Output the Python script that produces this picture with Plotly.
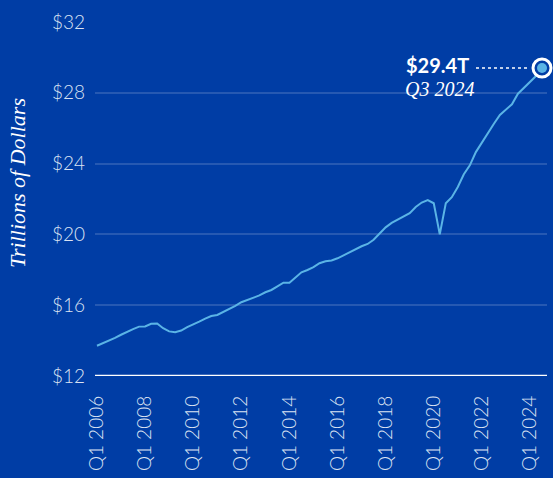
import plotly.graph_objects as go

# Quarterly values, trillions of dollars (Q1 2006 .. Q3 2024)
years = list(range(2006, 2025))
quarters = [f"Q{q} {y}" for y in years for q in (1, 2, 3, 4)][:75]
values = [
    13.71, 13.85, 14.00, 14.15, 14.33, 14.50, 14.65, 14.79,
    14.80, 14.95, 14.97, 14.70, 14.52, 14.47, 14.57, 14.76,
    14.90, 15.07, 15.24, 15.39, 15.45, 15.62, 15.76, 15.96,
    16.17, 16.30, 16.42, 16.55, 16.73, 16.86, 17.06, 17.27,
    17.27, 17.57, 17.86, 17.99, 18.15, 18.37, 18.48, 18.53,
    18.65, 18.82, 18.99, 19.17, 19.33, 19.46, 19.70, 20.05,
    20.40, 20.65, 20.84, 21.00, 21.20, 21.55, 21.80, 21.94,
    21.76, 20.00, 21.76, 22.10, 22.68, 23.40, 23.90, 24.65,
    25.20, 25.70, 26.25, 26.75, 27.07, 27.35, 27.95, 28.30,
    28.65, 28.95, 29.40,
]
tick_labels = [f"Q1 {y}" for y in range(2006, 2025, 2)]
y_ticks = [12, 16, 20, 24, 28, 32]
y_tick_text = [f"${v}" for v in y_ticks]
last_label = "$29.4T"
last_period = "Q3 2024"

BG = "#003DA5"
LINE = "#5AB4E6"
TXT = "#DCE3F3"

W, H = 553, 478
L, R, T, B = 95, 6, 22, 102
PW, PH = W - L - R, H - T - B

def px(xp):  # window pixel -> paper
    return (xp - L) / PW

def py(yp):
    return (H - B - yp) / PH

fig = go.Figure()
fig.add_trace(go.Scatter(
    x=quarters, y=values, mode="lines",
    line=dict(color=LINE, width=2), hoverinfo="skip", showlegend=False,
))
fig.add_trace(go.Scatter(
    x=[quarters[-1]], y=[values[-1]], mode="markers",
    marker=dict(size=18, color=BG, line=dict(color="white", width=3)),
    showlegend=False, hoverinfo="skip", cliponaxis=False,
))
fig.add_trace(go.Scatter(
    x=[quarters[-1]], y=[values[-1]], mode="markers",
    marker=dict(size=10, color=LINE), showlegend=False, hoverinfo="skip",
    cliponaxis=False,
))

fig.update_layout(
    width=W, height=H,
    margin=dict(l=L, r=R, t=T, b=B, pad=0),
    paper_bgcolor=BG, plot_bgcolor=BG,
    font=dict(family="Lato", color=TXT, size=19, weight=300),
    xaxis=dict(
        type="category", categoryorder="array", categoryarray=quarters,
        range=[-0.33, 74.83],
        tickmode="array", tickvals=tick_labels, ticktext=tick_labels,
        tickangle=-90, showgrid=False, zeroline=False, showline=False,
        ticks="", ticklabelstandoff=15,
        tickfont=dict(family="Lato", size=19, color=TXT, weight=300),
    ),
    yaxis=dict(
        range=[12, 32], tickmode="array", tickvals=y_ticks, ticktext=y_tick_text,
        showgrid=True, gridcolor="rgba(255,255,255,0.15)", gridwidth=1.5,
        zeroline=False, showline=False, ticks="", ticklabelstandoff=9,
        tickfont=dict(family="Lato", size=19, color=TXT, weight=300),
    ),
)

# white baseline at $12
fig.add_shape(type="line", xref="paper", yref="y", x0=0, x1=1, y0=12, y1=12,
              line=dict(color="white", width=2.5), layer="above")
# dotted leader
fig.add_shape(type="line", xref="paper", yref="y", x0=px(476), x1=px(529),
              y0=values[-1], y1=values[-1],
              line=dict(color="white", width=1.5, dash="dot"))

fig.add_annotation(
    xref="paper", yref="y", x=px(471), y=values[-1], xanchor="right", yanchor="middle",
    text=f"<b>{last_label}</b>", showarrow=False,
    font=dict(family="Lato", size=20, color="white", weight=700), yshift=3,
)
fig.add_annotation(
    xref="paper", yref="y", x=px(403), y=values[-1], xanchor="left", yanchor="top",
    text=last_period, showarrow=False, yshift=-8,
    font=dict(family="Liberation Serif", size=20, color="white", style="italic"),
)
fig.add_annotation(
    xref="paper", yref="paper", x=px(17), y=py(183), xanchor="center", yanchor="middle",
    text="Trillions of Dollars", textangle=-90, showarrow=False,
    font=dict(family="Liberation Serif", size=22, color="white", style="italic"),
)

fig.write_html(
    "out.html",
    config={"displayModeBar": False},
    post_script="document.body.style.margin='0';document.body.style.background='#003DA5';",
)
